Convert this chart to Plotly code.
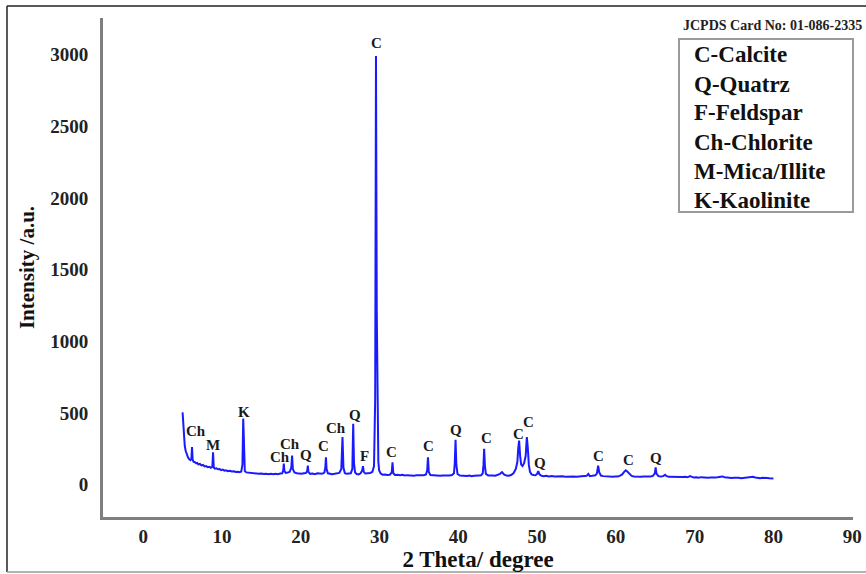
import plotly.graph_objects as go

# ---------------- data ----------------
two_theta = [
    5.00, 5.05, 5.10, 5.18, 5.28, 5.40, 5.55, 5.70, 5.85, 6.00, 6.12, 6.20, 6.28, 6.40, 6.55, 6.70, 6.85,
    7.00, 7.20, 7.40, 7.60, 7.80, 8.00, 8.20, 8.40, 8.60, 8.78, 8.87, 8.96, 9.10, 9.30, 9.50, 9.70, 9.90,
    10.10, 10.30, 10.50, 10.75, 11.00, 11.25, 11.50, 11.75, 12.00, 12.25, 12.45, 12.60, 12.70, 12.80, 12.90,
    13.10, 13.35, 13.60, 13.85, 14.10, 14.40, 14.70, 15.00, 15.30, 15.60, 15.90, 16.20, 16.50, 16.80, 17.10,
    17.40, 17.65, 17.78, 17.85, 17.93, 18.10, 18.35, 18.60, 18.80, 18.90, 19.00, 19.20, 19.50, 19.80, 20.10,
    20.40, 20.65, 20.82, 20.90, 20.98, 21.20, 21.50, 21.80, 22.10, 22.40, 22.70, 23.00, 23.12, 23.20, 23.28,
    23.45, 23.70, 24.00, 24.30, 24.60, 24.90, 25.15, 25.30, 25.42, 25.60, 25.85, 26.10, 26.35, 26.55, 26.66,
    26.76, 26.90, 27.10, 27.35, 27.60, 27.80, 27.90, 28.00, 28.20, 28.50, 28.80, 29.10, 29.30, 29.45, 29.55,
    29.65, 29.75, 29.85, 29.95, 30.15, 30.40, 30.70, 31.00, 31.30, 31.55, 31.65, 31.75, 31.95, 32.30, 32.60,
    32.90, 33.20, 33.50, 33.80, 34.10, 34.40, 34.70, 35.00, 35.30, 35.60, 35.90, 36.05, 36.15, 36.25, 36.45,
    36.80, 37.10, 37.40, 37.70, 38.00, 38.30, 38.60, 38.90, 39.20, 39.45, 39.55, 39.65, 39.75, 39.90, 40.20,
    40.50, 40.80, 41.10, 41.40, 41.70, 42.00, 42.30, 42.60, 42.90, 43.10, 43.20, 43.28, 43.38, 43.50, 43.80,
    44.10, 44.40, 44.70, 45.00, 45.30, 45.55, 45.80, 46.10, 46.40, 46.70, 47.00, 47.30, 47.50, 47.60, 47.72,
    47.85, 47.98, 48.15, 48.35, 48.55, 48.70, 48.82, 48.95, 49.10, 49.30, 49.55, 49.80, 50.00, 50.15, 50.30,
    50.55, 50.85, 51.15, 51.50, 51.85, 52.20, 52.55, 52.90, 53.25, 53.60, 53.95, 54.30, 54.65, 55.00, 55.35,
    55.70, 56.00, 56.30, 56.50, 56.70, 57.00, 57.40, 57.60, 57.75, 57.90, 58.10, 58.40, 58.70, 59.00, 59.30,
    59.60, 59.90, 60.20, 60.50, 60.80, 61.05, 61.25, 61.45, 61.70, 62.00, 62.30, 62.60, 62.90, 63.20, 63.50,
    63.80, 64.10, 64.40, 64.70, 64.95, 65.05, 65.15, 65.40, 65.70, 66.00, 66.25, 66.40, 66.70, 67.00, 67.30,
    67.60, 67.90, 68.20, 68.50, 68.80, 69.10, 69.40, 69.60, 69.90, 70.20, 70.50, 70.80, 71.10, 71.40, 71.70,
    72.00, 72.30, 72.60, 72.90, 73.20, 73.50, 73.80, 74.10, 74.40, 74.70, 75.00, 75.30, 75.60, 75.90, 76.20,
    76.50, 76.80, 77.10, 77.40, 77.70, 78.00, 78.30, 78.60, 78.90, 79.20, 79.50, 79.80, 80.00,
]
intensity = [
    505, 450, 390, 320, 270, 235, 205, 190, 178, 172, 180, 262, 175, 160, 158, 150, 152,
    142, 145, 135, 138, 128, 130, 122, 125, 118, 125, 227, 120, 112, 115, 108, 110, 102,
    106, 98, 101, 95, 97, 92, 94, 89, 91, 88, 92, 140, 461, 150, 95,
    86, 84, 81, 83, 78, 80, 76, 79, 75, 77, 74, 77, 73, 76, 74,
    78, 80, 100, 147, 95, 82, 85, 90, 120, 203, 110, 85, 80, 78, 76,
    80, 82, 95, 133, 88, 76, 78, 74, 80, 77, 76, 85, 120, 192, 110,
    80, 77, 74, 76, 80, 82, 110, 332, 120, 80, 76, 78, 80, 110, 425,
    150, 85, 75, 72, 80, 100, 130, 90, 78, 80, 82, 90, 130, 600, 2990,
    1200, 250, 160, 100, 78, 70, 72, 68, 70, 85, 157, 80, 68, 70, 66,
    69, 65, 67, 64, 66, 63, 67, 66, 70, 66, 72, 100, 192, 90, 68,
    66, 64, 66, 62, 65, 63, 66, 64, 68, 80, 150, 313, 140, 75, 64,
    62, 65, 61, 64, 60, 63, 62, 65, 66, 80, 140, 250, 130, 75, 65,
    62, 64, 63, 68, 76, 88, 72, 64, 63, 68, 80, 110, 160, 250, 308,
    200, 140, 130, 150, 200, 332, 260, 140, 90, 72, 68, 66, 75, 95, 72,
    62, 60, 62, 58, 61, 58, 60, 57, 59, 56, 58, 55, 58, 56, 58,
    60, 58, 62, 75, 60, 62, 66, 80, 133, 85, 64, 60, 58, 57, 59,
    56, 58, 57, 62, 72, 90, 100, 92, 75, 62, 58, 56, 58, 55, 57,
    55, 57, 58, 62, 80, 121, 78, 60, 58, 60, 70, 62, 55, 54, 56,
    53, 55, 52, 54, 56, 52, 60, 54, 50, 52, 49, 53, 50, 52, 49,
    51, 48, 50, 52, 56, 58, 52, 49, 50, 47, 49, 46, 48, 46, 48,
    45, 47, 50, 55, 50, 47, 46, 48, 45, 47, 45, 46, 44,
]

peak_labels = ["Ch", "M", "K", "Ch", "Ch", "Q", "C", "Ch", "Q", "F", "C", "C", "C",
               "Q", "C", "C", "C", "Q", "C", "C", "Q"]
peak_label_x = [6.7, 8.9, 12.8, 17.4, 18.6, 20.7, 22.9, 24.5, 26.9, 28.1, 29.6, 31.5, 36.2,
                39.7, 43.6, 47.6, 48.9, 50.4, 57.8, 61.6, 65.1]
peak_label_y = [374, 280, 507, 196, 285, 210, 273, 395, 484, 203, 3080, 227, 273,
                379, 327, 355, 437, 150, 203, 173, 185]

legend_lines = ["C-Calcite", "Q-Quatrz", "F-Feldspar", "Ch-Chlorite", "M-Mica/Illite", "K-Kaolinite"]
card_text = "JCPDS Card No: 01-086-2335"

x_ticks = [0, 10, 20, 30, 40, 50, 60, 70, 80, 90]
y_ticks = [0, 500, 1000, 1500, 2000, 2500, 3000]

# ---------------- layout geometry ----------------
W, H = 866, 574
L, R, T, B = 103, 853, 18, 517   # plot area in pixels


def px(xp):
    return (xp - L) / (R - L)


def py(yp):
    return (B - yp) / (B - T)


SERIF = "Liberation Serif, Times New Roman, serif"

fig = go.Figure()
fig.add_trace(go.Scatter(
    x=two_theta, y=intensity, mode="lines",
    line=dict(color="#1a1aff", width=2),
    showlegend=False, hoverinfo="skip",
))

annotations = []
for t, xv, yv in zip(peak_labels, peak_label_x, peak_label_y):
    annotations.append(dict(
        x=xv, y=yv, xref="x", yref="y", text="<b>%s</b>" % t, showarrow=False,
        font=dict(family=SERIF, size=15, color="#1a1a1a"),
    ))

for i, t in enumerate(legend_lines):
    annotations.append(dict(
        x=px(692), y=py(55 + 29 * i), xref="paper", yref="paper",
        xanchor="left", yanchor="middle", text="<b>%s</b>" % t, showarrow=False,
        font=dict(family=SERIF, size=23, color="#111111"),
    ))

annotations.append(dict(
    x=px(864), y=py(25), xref="paper", yref="paper", xanchor="right", yanchor="middle",
    text="<b>%s</b>" % card_text, showarrow=False,
    font=dict(family=SERIF, size=14, color="#222222"),
))

shapes = [
    # legend box
    dict(type="rect", xref="paper", yref="paper", x0=px(679), x1=px(853), y0=py(212), y1=py(39),
         line=dict(color="#9a9a9a", width=2), fillcolor="rgba(0,0,0,0)"),
    # outer picture frame
    dict(type="line", xref="paper", yref="paper", x0=px(7), x1=px(870), y0=py(6), y1=py(6),
         line=dict(color="#222222", width=1.5)),
    dict(type="line", xref="paper", yref="paper", x0=px(7), x1=px(7), y0=py(6), y1=py(572),
         line=dict(color="#222222", width=1.5)),
    dict(type="line", xref="paper", yref="paper", x0=px(7), x1=px(870), y0=py(572), y1=py(572),
         line=dict(color="#999999", width=1.5)),
]

fig.update_layout(
    width=W, height=H,
    margin=dict(l=L, r=W - R, t=T, b=H - B, pad=0, autoexpand=False),
    paper_bgcolor="white", plot_bgcolor="white",
    annotations=annotations, shapes=shapes,
    font=dict(family=SERIF, color="#1a1a1a"),
)
fig.update_xaxes(
    range=[-5.1, 90.1], tickvals=x_ticks, ticktext=["<b>%d</b>" % v for v in x_ticks],
    showgrid=False, zeroline=False, showline=True, linecolor="#7f7f7f", linewidth=3,
    ticks="", automargin=False, tickfont=dict(family=SERIF, size=19, color="#222222"),
    title=dict(text="<b>2 Theta/ degree</b>", font=dict(family=SERIF, size=23, color="#111111"), standoff=2),
)
fig.update_yaxes(
    range=[-225, 3255], tickvals=y_ticks, ticktext=["<b>%d</b>" % v for v in y_ticks],
    showgrid=False, zeroline=False, showline=True, linecolor="#7f7f7f", linewidth=3,
    ticks="", automargin=False, ticklabelstandoff=8, tickfont=dict(family=SERIF, size=19, color="#222222"),
    title=dict(text="<b>Intensity /a.u.</b>", font=dict(family=SERIF, size=21, color="#111111"), standoff=10),
)

fig.write_html(
    "out.html",
    config={"displayModeBar": False},
    post_script="document.body.style.margin='0px';document.body.style.overflow='hidden';",
)
